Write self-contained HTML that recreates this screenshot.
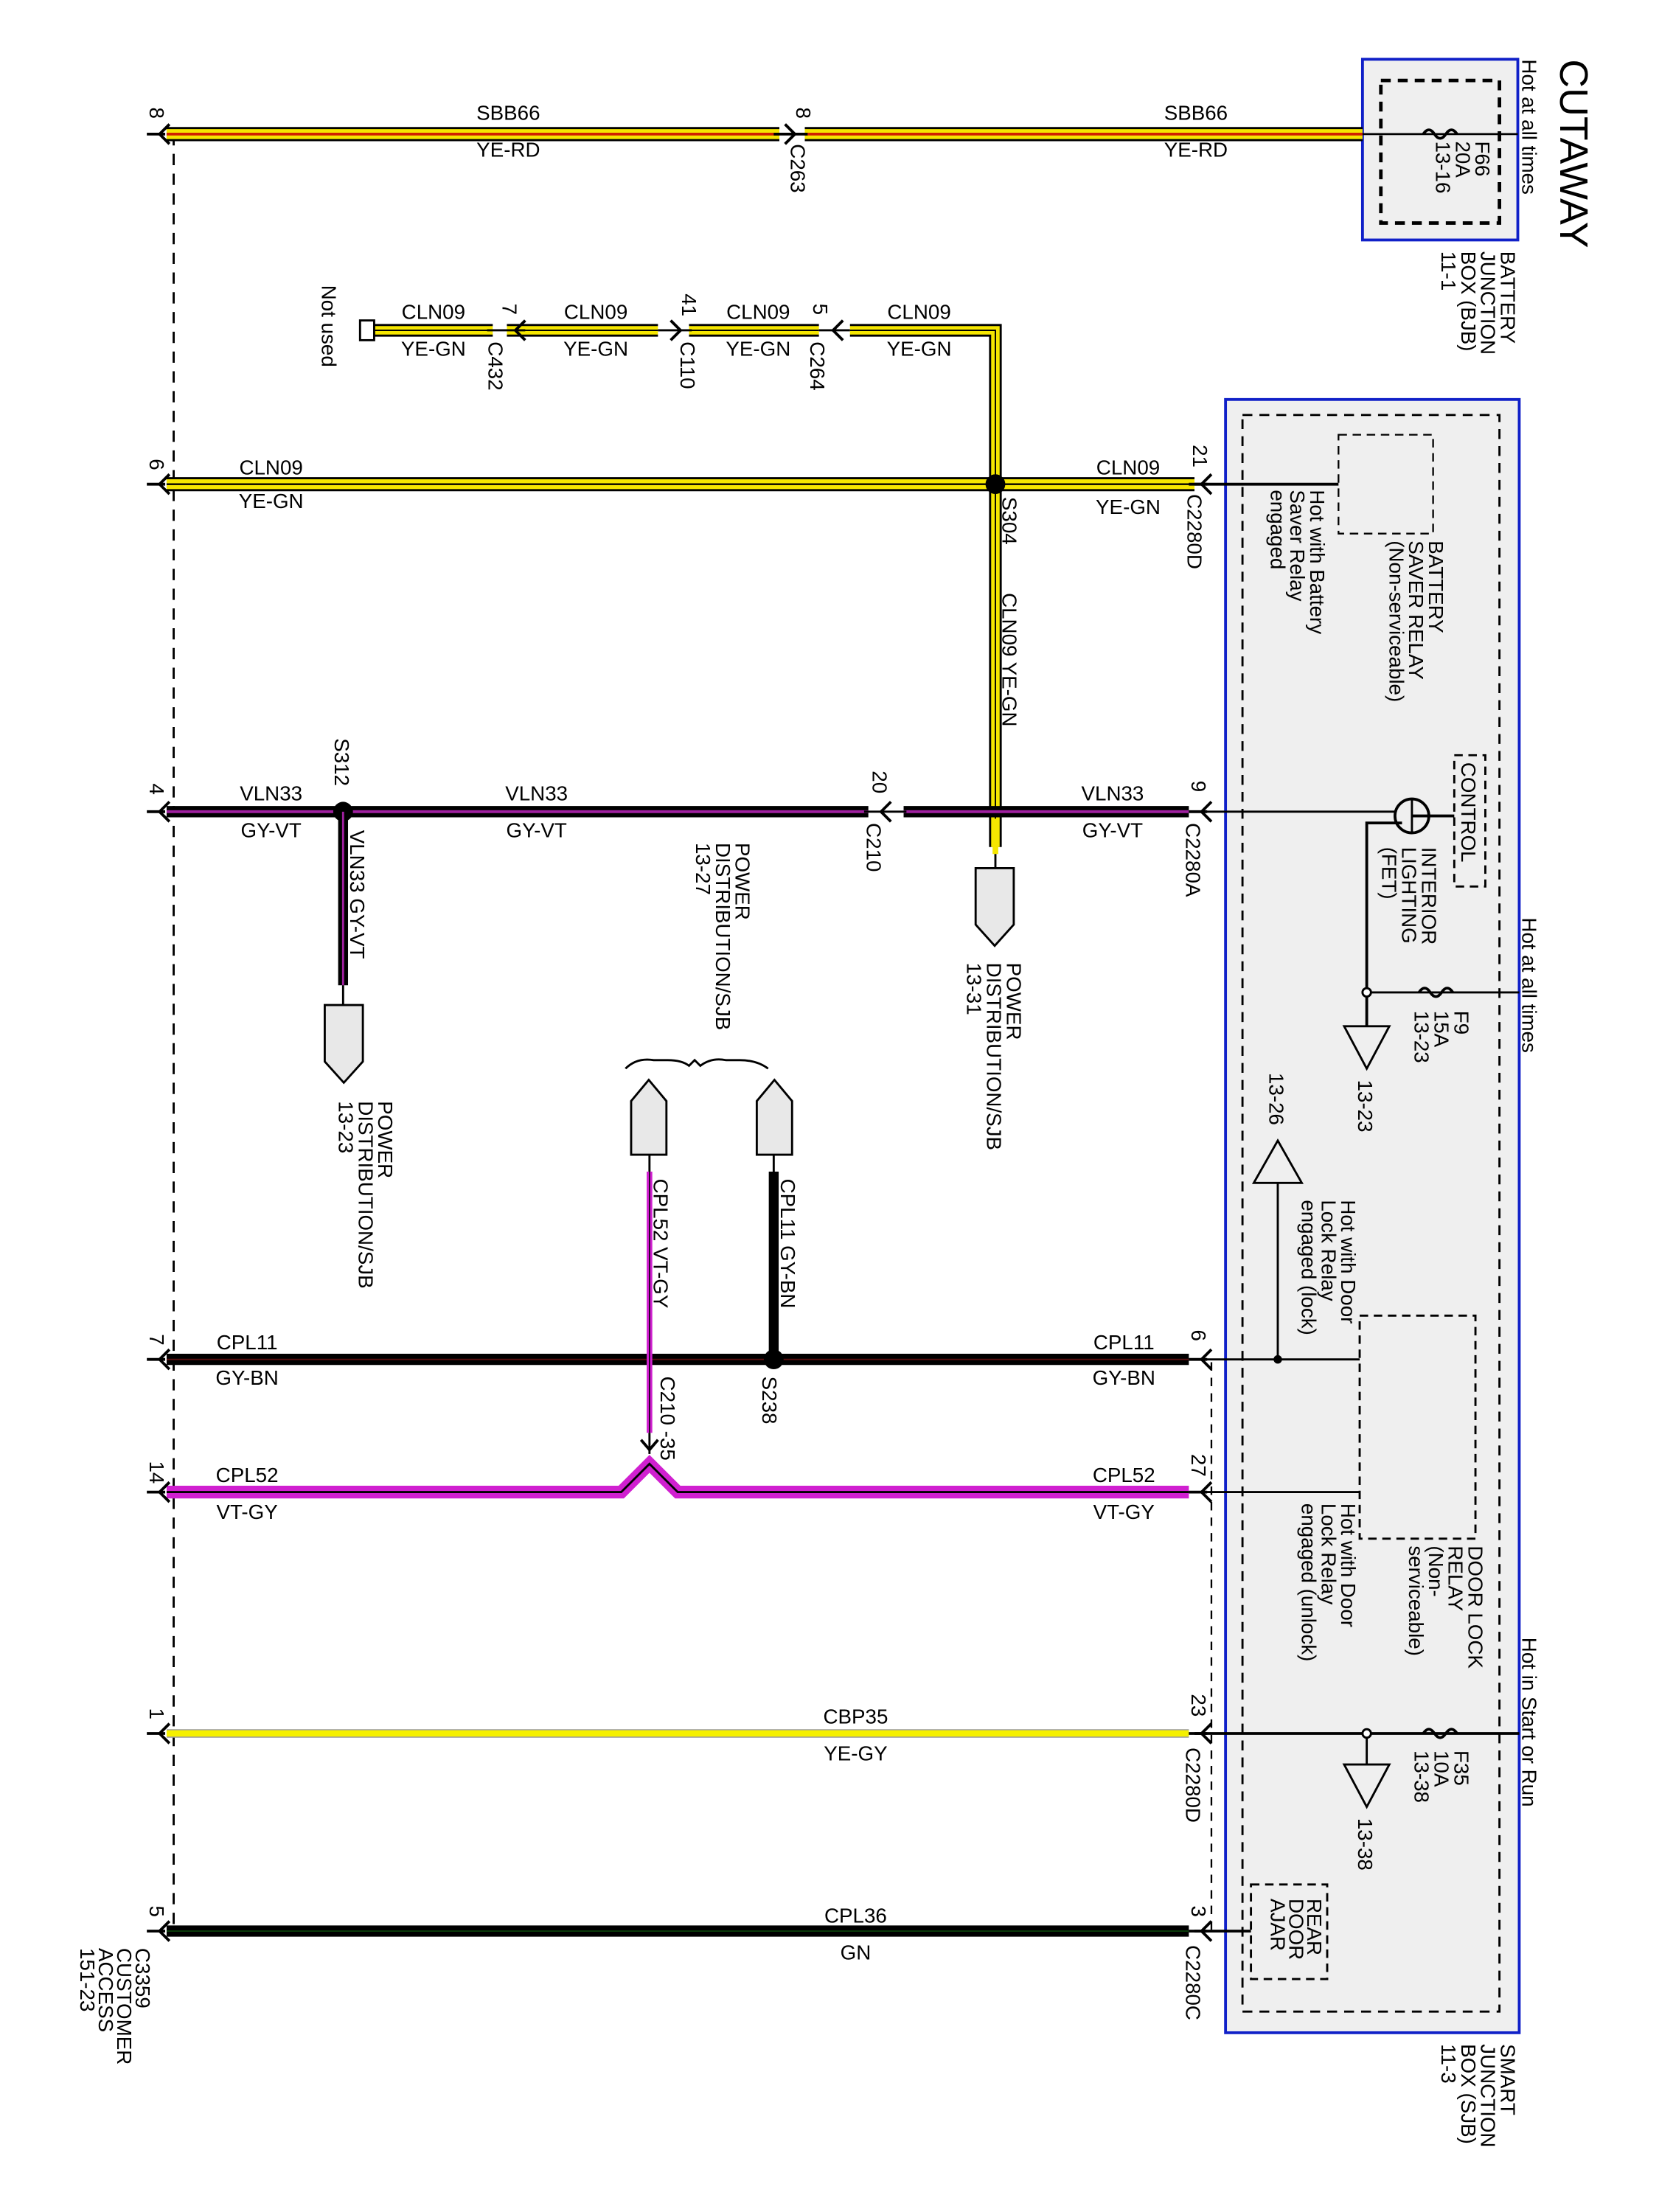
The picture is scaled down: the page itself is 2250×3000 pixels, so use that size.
<!DOCTYPE html>
<html><head><meta charset="utf-8"><style>
html,body{margin:0;padding:0;background:#fff;}
svg{display:block}
text{font-family:"Liberation Sans",sans-serif;font-size:14.5px;fill:#000}
</style></head><body>
<svg width="2250" height="3000" viewBox="0 0 1175 1567" preserveAspectRatio="none" xmlns="http://www.w3.org/2000/svg">
<defs>
<g id="chL"><polyline points="7,-7 0,0 7,7" fill="none" stroke="#000" stroke-width="2"/><line x1="-9" y1="0" x2="4" y2="0" stroke="#000" stroke-width="2"/></g>
<g id="chR"><polyline points="-7,-7 0,0 -7,7" fill="none" stroke="#000" stroke-width="2"/></g>
</defs>

<rect x="965" y="42" width="110" height="128" fill="#efefef" stroke="#1020c8" stroke-width="2"/>
<rect x="978" y="57" width="84" height="101" fill="none" stroke="#000" stroke-width="2.5" stroke-dasharray="7,5"/>
<rect x="868" y="283" width="208" height="1157" fill="#efefef" stroke="#1020c8" stroke-width="2"/>
<rect x="880" y="294" width="182" height="1131" fill="none" stroke="#000" stroke-width="1.5" stroke-dasharray="7,5"/>
<rect x="948" y="308" width="67" height="70" fill="none" stroke="#000" stroke-width="1.2" stroke-dasharray="6,4"/>
<rect x="1030" y="535" width="22" height="93" fill="none" stroke="#000" stroke-width="1.5" stroke-dasharray="6,4"/>
<rect x="963" y="932" width="82" height="158" fill="none" stroke="#000" stroke-width="1.5" stroke-dasharray="6,4"/>
<rect x="886" y="1335" width="54" height="67" fill="none" stroke="#000" stroke-width="1.5" stroke-dasharray="6,4"/>

<line x1="123" y1="95" x2="123" y2="1368" stroke="#000" stroke-width="1.5" stroke-dasharray="8,6"/>
<line x1="858" y1="965" x2="858" y2="1370" stroke="#000" stroke-width="1.2" stroke-dasharray="6,5"/>

<g stroke-linecap="butt">
<line x1="118" y1="95" x2="552" y2="95" stroke="#000" stroke-width="10"/>
<line x1="118" y1="95" x2="552" y2="95" stroke="#f5e600" stroke-width="7"/>
<line x1="118" y1="95" x2="552" y2="95" stroke="#d02000" stroke-width="2"/>
<line x1="570" y1="95" x2="965" y2="95" stroke="#000" stroke-width="10"/>
<line x1="570" y1="95" x2="965" y2="95" stroke="#f5e600" stroke-width="7"/>
<line x1="570" y1="95" x2="965" y2="95" stroke="#d02000" stroke-width="2"/>
</g>
<use href="#chL" x="113" y="95"/>
<line x1="548" y1="95" x2="572" y2="95" stroke="#000" stroke-width="2"/>
<use href="#chR" x="563" y="95"/>
<line x1="965" y1="95" x2="1075" y2="95" stroke="#000" stroke-width="1.5"/>
<path d="M1008 95 q4 -6 8 0 t8 0 t8 0" fill="none" stroke="#000" stroke-width="2"/>
<text x="360" y="85" text-anchor="middle">SBB66</text>
<text x="360" y="111" text-anchor="middle">YE-RD</text>
<text x="847" y="85" text-anchor="middle">SBB66</text>
<text x="847" y="111" text-anchor="middle">YE-RD</text>

<g>
<path d="M262 234 H705 V600" fill="none" stroke="#000" stroke-width="9"/>
<path d="M262 234 H705 V600" fill="none" stroke="#f5e600" stroke-width="6"/>
<path d="M262 234 H705 V600" fill="none" stroke="#000" stroke-width="1"/>
<rect x="255" y="227" width="10" height="14" fill="#fff" stroke="#000" stroke-width="1.5"/>
<rect x="349" y="228" width="10" height="12" fill="#fff"/>
<line x1="345" y1="234" x2="372" y2="234" stroke="#000" stroke-width="1.5"/>
<use href="#chR" x="365" y="234" transform="rotate(180 365 234)"/>
<rect x="466" y="228" width="22" height="12" fill="#fff"/>
<line x1="466" y1="234" x2="490" y2="234" stroke="#000" stroke-width="1.5"/>
<use href="#chR" x="482" y="234"/>
<rect x="580" y="228" width="22" height="12" fill="#fff"/>
<line x1="580" y1="234" x2="602" y2="234" stroke="#000" stroke-width="1.5"/>
<use href="#chR" x="590" y="234" transform="rotate(180 590 234)"/>
</g>
<text x="307" y="226" text-anchor="middle">CLN09</text><text x="307" y="252" text-anchor="middle">YE-GN</text>
<text x="422" y="226" text-anchor="middle">CLN09</text><text x="422" y="252" text-anchor="middle">YE-GN</text>
<text x="537" y="226" text-anchor="middle">CLN09</text><text x="537" y="252" text-anchor="middle">YE-GN</text>
<text x="651" y="226" text-anchor="middle">CLN09</text><text x="651" y="252" text-anchor="middle">YE-GN</text>

<line x1="118" y1="343" x2="846" y2="343" stroke="#000" stroke-width="10"/>
<line x1="118" y1="343" x2="846" y2="343" stroke="#f5e600" stroke-width="7"/>
<line x1="118" y1="343" x2="846" y2="343" stroke="#000" stroke-width="1.2"/>
<use href="#chL" x="113" y="343"/>
<line x1="846" y1="343" x2="948" y2="343" stroke="#000" stroke-width="2"/>
<use href="#chL" x="851" y="343"/>
<circle cx="705" cy="343" r="7" fill="#000"/>
<text x="192" y="336" text-anchor="middle">CLN09</text><text x="192" y="360" text-anchor="middle">YE-GN</text>
<text x="799" y="336" text-anchor="middle">CLN09</text><text x="799" y="364" text-anchor="middle">YE-GN</text>

<line x1="118" y1="575" x2="615" y2="575" stroke="#000" stroke-width="8"/>
<line x1="118" y1="575" x2="615" y2="575" stroke="#a020a0" stroke-width="2"/>
<line x1="640" y1="575" x2="842" y2="575" stroke="#000" stroke-width="8"/>
<line x1="640" y1="575" x2="842" y2="575" stroke="#a020a0" stroke-width="2"/>
<line x1="612" y1="575" x2="642" y2="575" stroke="#000" stroke-width="1.5"/>
<use href="#chR" x="624" y="575" transform="rotate(180 624 575)"/>
<use href="#chL" x="113" y="575"/>
<use href="#chL" x="851" y="575"/>
<line x1="846" y1="575" x2="988" y2="575" stroke="#000" stroke-width="1.5"/>
<circle cx="243" cy="575" r="7" fill="#000"/>
<line x1="243" y1="575" x2="243" y2="698" stroke="#000" stroke-width="7"/>
<line x1="243" y1="575" x2="243" y2="698" stroke="#a020a0" stroke-width="1.5"/>
<line x1="243" y1="698" x2="243" y2="712" stroke="#000" stroke-width="1.5"/>
<polygon points="230,712 257,712 257,752 243.5,767 230,752" fill="#e8e8e8" stroke="#000" stroke-width="1.5"/>
<line x1="705" y1="580" x2="705" y2="605" stroke="#f5e600" stroke-width="4"/>
<line x1="705" y1="605" x2="705" y2="615" stroke="#000" stroke-width="1.5"/>
<polygon points="691,615 718,615 718,655 704.5,670 691,655" fill="#e8e8e8" stroke="#000" stroke-width="1.5"/>
<text x="192" y="567" text-anchor="middle">VLN33</text><text x="192" y="593" text-anchor="middle">GY-VT</text>
<text x="380" y="567" text-anchor="middle">VLN33</text><text x="380" y="593" text-anchor="middle">GY-VT</text>
<text x="788" y="567" text-anchor="middle">VLN33</text><text x="788" y="593" text-anchor="middle">GY-VT</text>

<circle cx="1000" cy="578" r="12" fill="none" stroke="#000" stroke-width="2"/>
<line x1="1000" y1="566" x2="1000" y2="590" stroke="#000" stroke-width="1.5"/>
<line x1="1000" y1="578" x2="1030" y2="578" stroke="#000" stroke-width="2"/>
<polyline points="993,583 968,583 968,727" fill="none" stroke="#000" stroke-width="2"/>
<circle cx="968" cy="703" r="3" fill="#fff" stroke="#000" stroke-width="1.5"/>
<line x1="971" y1="703" x2="1076" y2="703" stroke="#000" stroke-width="1.5"/>
<path d="M1005 703 q4 -6 8 0 t8 0 t8 0" fill="none" stroke="#000" stroke-width="2"/>
<polygon points="952,727 984,727 968,757" fill="none" stroke="#000" stroke-width="1.5"/>

<line x1="118" y1="963" x2="842" y2="963" stroke="#000" stroke-width="8"/>
<line x1="118" y1="963" x2="842" y2="963" stroke="#5a1010" stroke-width="1"/>
<use href="#chL" x="113" y="963"/>
<use href="#chL" x="851" y="963"/>
<line x1="846" y1="963" x2="963" y2="963" stroke="#000" stroke-width="1.5"/>
<circle cx="905" cy="963" r="3" fill="#000"/>
<line x1="905" y1="963" x2="905" y2="838" stroke="#000" stroke-width="1.5"/>
<polygon points="888,838 922,838 905,808" fill="none" stroke="#000" stroke-width="1.5"/>
<circle cx="548" cy="963" r="7" fill="#000"/>
<line x1="548" y1="963" x2="548" y2="830" stroke="#000" stroke-width="7"/>
<line x1="548" y1="830" x2="548" y2="818" stroke="#000" stroke-width="1.5"/>
<polygon points="536,818 561,818 561,780 548.5,765 536,780" fill="#e8e8e8" stroke="#000" stroke-width="1.5"/>
<text x="175" y="956" text-anchor="middle">CPL11</text><text x="175" y="981" text-anchor="middle">GY-BN</text>
<text x="796" y="956" text-anchor="middle">CPL11</text><text x="796" y="981" text-anchor="middle">GY-BN</text>

<polyline points="118,1057 440,1057 460,1037 480,1057 842,1057" fill="none" stroke="#d020d0" stroke-width="9"/>
<polyline points="118,1057 440,1057 460,1037 480,1057 842,1057" fill="none" stroke="#000" stroke-width="1.5"/>
<use href="#chL" x="113" y="1057"/>
<use href="#chL" x="851" y="1057"/>
<line x1="846" y1="1057" x2="963" y2="1057" stroke="#000" stroke-width="1.5"/>
<line x1="460" y1="830" x2="460" y2="1015" stroke="#d020d0" stroke-width="4"/>
<line x1="460" y1="830" x2="460" y2="1015" stroke="#000" stroke-width="0.8"/>
<line x1="460" y1="818" x2="460" y2="830" stroke="#000" stroke-width="1.5"/>
<line x1="460" y1="1015" x2="460" y2="1030" stroke="#000" stroke-width="1.5"/>
<polyline points="454,1020 460,1027 466,1020" fill="none" stroke="#000" stroke-width="2"/>
<polygon points="447,818 472,818 472,780 459.5,765 447,780" fill="#e8e8e8" stroke="#000" stroke-width="1.5"/>
<path d="M443 757 q8 -8 20 -6 h10 q10 0 15 4 l4 -4 l4 4 q8 -6 18 -4 h10 q12 0 20 6" fill="none" stroke="#000" stroke-width="1.5"/>
<text x="175" y="1050" text-anchor="middle">CPL52</text><text x="175" y="1076" text-anchor="middle">VT-GY</text>
<text x="796" y="1050" text-anchor="middle">CPL52</text><text x="796" y="1076" text-anchor="middle">VT-GY</text>

<line x1="118" y1="1228" x2="842" y2="1228" stroke="#999" stroke-width="6"/>
<line x1="118" y1="1228" x2="842" y2="1228" stroke="#f5f000" stroke-width="4.5"/>
<use href="#chL" x="113" y="1228"/>
<use href="#chL" x="851" y="1228"/>
<line x1="846" y1="1228" x2="1076" y2="1228" stroke="#000" stroke-width="2"/>
<circle cx="968" cy="1228" r="3" fill="#fff" stroke="#000" stroke-width="1.5"/>
<line x1="968" y1="1231" x2="968" y2="1250" stroke="#000" stroke-width="1.5"/>
<polygon points="952,1250 984,1250 968,1280" fill="none" stroke="#000" stroke-width="1.5"/>
<path d="M1008 1228 q4 -6 8 0 t8 0 t8 0" fill="none" stroke="#000" stroke-width="2"/>
<text x="606" y="1221" text-anchor="middle">CBP35</text><text x="606" y="1247" text-anchor="middle">YE-GY</text>

<line x1="118" y1="1368" x2="842" y2="1368" stroke="#000" stroke-width="8"/>
<line x1="118" y1="1368" x2="842" y2="1368" stroke="#0a3a0a" stroke-width="1"/>
<use href="#chL" x="113" y="1368"/>
<use href="#chL" x="851" y="1368"/>
<line x1="846" y1="1368" x2="886" y2="1368" stroke="#000" stroke-width="2"/>
<text x="606" y="1362" text-anchor="middle">CPL36</text><text x="606" y="1388" text-anchor="middle">GN</text>

<g font-size="14.5">
<text transform="translate(1105,42) rotate(90)" style="font-size:28px">CUTAWAY</text>
<text transform="translate(1078,42) rotate(90)">Hot at all times</text>
<text transform="translate(1045,100) rotate(90)"><tspan x="0">F66</tspan><tspan x="0" dy="14">20A</tspan><tspan x="0" dy="14">13-16</tspan></text>
<text transform="translate(1063,178) rotate(90)"><tspan x="0">BATTERY</tspan><tspan x="0" dy="14">JUNCTION</tspan><tspan x="0" dy="14">BOX (BJB)</tspan><tspan x="0" dy="14">11-1</tspan></text>
<text transform="translate(106,76) rotate(90)">8</text>
<text transform="translate(564,76) rotate(90)">8</text>
<text transform="translate(560,102) rotate(90)">C263</text>
<text transform="translate(228,202) rotate(90)">Not used</text>
<text transform="translate(356,215) rotate(90)">7</text>
<text transform="translate(346,242) rotate(90)">C432</text>
<text transform="translate(483,208) rotate(90)">41</text>
<text transform="translate(482,242) rotate(90)">C110</text>
<text transform="translate(576,215) rotate(90)">5</text>
<text transform="translate(574,242) rotate(90)">C264</text>
<text transform="translate(106,325) rotate(90)">6</text>
<text transform="translate(845,315) rotate(90)">21</text>
<text transform="translate(841,350) rotate(90)">C2280D</text>
<text transform="translate(710,352) rotate(90)">S304</text>
<text transform="translate(710,420) rotate(90)">CLN09   YE-GN</text>
<text transform="translate(1012,383) rotate(90)"><tspan x="0">BATTERY</tspan><tspan x="0" dy="14">SAVER RELAY</tspan><tspan x="0" dy="14">(Non-serviceable)</tspan></text>
<text transform="translate(928,347) rotate(90)"><tspan x="0">Hot with Battery</tspan><tspan x="0" dy="14">Saver Relay</tspan><tspan x="0" dy="14">engaged</tspan></text>
<text transform="translate(106,555) rotate(90)">4</text>
<text transform="translate(237,523) rotate(90)">S312</text>
<text transform="translate(618,546) rotate(90)">20</text>
<text transform="translate(614,583) rotate(90)">C210</text>
<text transform="translate(844,553) rotate(90)">9</text>
<text transform="translate(840,583) rotate(90)">C2280A</text>
<text transform="translate(248,588) rotate(90)">VLN33   GY-VT</text>
<text transform="translate(521,597) rotate(90)"><tspan x="0">POWER</tspan><tspan x="0" dy="14">DISTRIBUTION/SJB</tspan><tspan x="0" dy="14">13-27</tspan></text>
<text transform="translate(713,682) rotate(90)"><tspan x="0">POWER</tspan><tspan x="0" dy="14">DISTRIBUTION/SJB</tspan><tspan x="0" dy="14">13-31</tspan></text>
<text transform="translate(268,780) rotate(90)"><tspan x="0">POWER</tspan><tspan x="0" dy="14">DISTRIBUTION/SJB</tspan><tspan x="0" dy="14">13-23</tspan></text>
<text transform="translate(1035,540) rotate(90)">CONTROL</text>
<text transform="translate(1007,600) rotate(90)"><tspan x="0">INTERIOR</tspan><tspan x="0" dy="14">LIGHTING</tspan><tspan x="0" dy="14">(FET)</tspan></text>
<text transform="translate(1078,650) rotate(90)">Hot at all times</text>
<text transform="translate(1030,716) rotate(90)"><tspan x="0">F9</tspan><tspan x="0" dy="14">15A</tspan><tspan x="0" dy="14">13-23</tspan></text>
<text transform="translate(962,765) rotate(90)">13-23</text>
<text transform="translate(899,760) rotate(90)">13-26</text>
<text transform="translate(950,850) rotate(90)"><tspan x="0">Hot with Door</tspan><tspan x="0" dy="14">Lock Relay</tspan><tspan x="0" dy="14">engaged (lock)</tspan></text>
<text transform="translate(463,835) rotate(90)">CPL52   VT-GY</text>
<text transform="translate(553,835) rotate(90)">CPL11   GY-BN</text>
<text transform="translate(540,975) rotate(90)">S238</text>
<text transform="translate(468,975) rotate(90)">C210 -35</text>
<text transform="translate(106,945) rotate(90)">7</text>
<text transform="translate(844,942) rotate(90)">6</text>
<text transform="translate(106,1035) rotate(90)">14</text>
<text transform="translate(844,1030) rotate(90)">27</text>
<text transform="translate(1040,1095) rotate(90)"><tspan x="0">DOOR LOCK</tspan><tspan x="0" dy="14">RELAY</tspan><tspan x="0" dy="14">(Non-</tspan><tspan x="0" dy="14">serviceable)</tspan></text>
<text transform="translate(950,1065) rotate(90)"><tspan x="0">Hot with Door</tspan><tspan x="0" dy="14">Lock Relay</tspan><tspan x="0" dy="14">engaged (unlock)</tspan></text>
<text transform="translate(1078,1160) rotate(90)">Hot in Start or Run</text>
<text transform="translate(1030,1240) rotate(90)"><tspan x="0">F35</tspan><tspan x="0" dy="14">10A</tspan><tspan x="0" dy="14">13-38</tspan></text>
<text transform="translate(962,1288) rotate(90)">13-38</text>
<text transform="translate(106,1210) rotate(90)">1</text>
<text transform="translate(844,1200) rotate(90)">23</text>
<text transform="translate(840,1238) rotate(90)">C2280D</text>
<text transform="translate(106,1350) rotate(90)">5</text>
<text transform="translate(844,1350) rotate(90)">3</text>
<text transform="translate(840,1378) rotate(90)">C2280C</text>
<text transform="translate(926,1345) rotate(90)"><tspan x="0">REAR</tspan><tspan x="0" dy="13">DOOR</tspan><tspan x="0" dy="13">AJAR</tspan></text>
<text transform="translate(96,1380) rotate(90)"><tspan x="0">C3359</tspan><tspan x="0" dy="13">CUSTOMER</tspan><tspan x="0" dy="13">ACCESS</tspan><tspan x="0" dy="13">151-23</tspan></text>
<text transform="translate(1063,1448) rotate(90)"><tspan x="0">SMART</tspan><tspan x="0" dy="14">JUNCTION</tspan><tspan x="0" dy="14">BOX (SJB)</tspan><tspan x="0" dy="14">11-3</tspan></text>
</g>
</svg>
</body></html>
